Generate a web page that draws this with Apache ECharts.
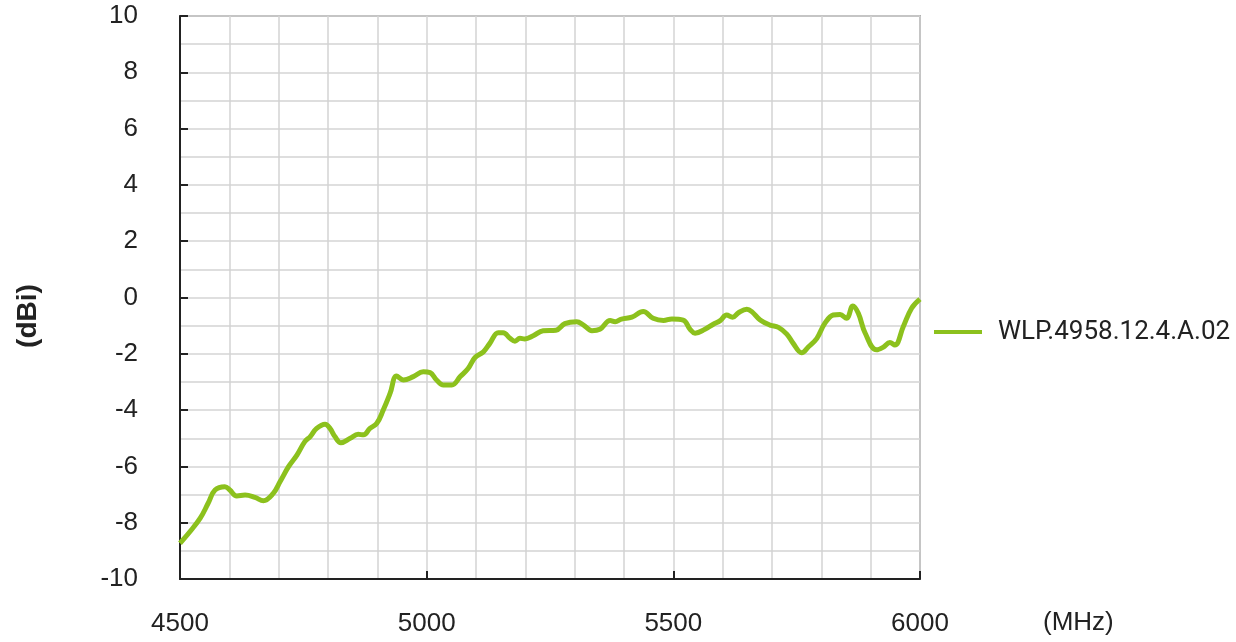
<!DOCTYPE html>
<html>
<head>
<meta charset="utf-8">
<script src="https://cdn.jsdelivr.net/npm/echarts@6/dist/echarts.min.js"></script>
<style>html,body{margin:0;padding:0;background:#fff;}#c{width:1236px;height:642px;}</style>
</head>
<body>
<div id="c"></div>
<script>
const seriesName = 'WLP.4958.12.4.A.02';
const freqs = [4500,4520,4541,4557,4571,4591,4601,4615,4632,4652,4669,4689,4703,4720,4737,4753,4764,4777,4794,4804,4814,4826,4845,4861,4872,4885,4899,4912,4926,4939,4953,4973,4993,5007,5020,5034,5051,5068,5084,5098,5115,5128,5145,5155,5169,5179,5189,5199,5216,5236,5262,5280,5304,5318,5335,5351,5372,5382,5395,5416,5439,5459,5480,5497,5520,5534,5544,5564,5581,5595,5608,5620,5632,5649,5659,5676,5696,5713,5730,5743,5760,5774,5791,5807,5824,5838,5851,5864,5875,5889,5912,5925,5939,5949,5966,5983,6000];
const gain = [-8.73,-8.32,-7.84,-7.31,-6.84,-6.72,-6.84,-7.05,-7.02,-7.10,-7.22,-6.96,-6.54,-6.01,-5.60,-5.12,-4.94,-4.65,-4.50,-4.65,-4.94,-5.16,-5.00,-4.86,-4.88,-4.65,-4.47,-4.00,-3.40,-2.79,-2.93,-2.81,-2.64,-2.67,-2.93,-3.11,-3.11,-2.81,-2.52,-2.13,-1.93,-1.63,-1.25,-1.25,-1.45,-1.55,-1.45,-1.47,-1.36,-1.18,-1.16,-0.93,-0.86,-0.98,-1.18,-1.13,-0.82,-0.86,-0.77,-0.70,-0.50,-0.74,-0.82,-0.76,-0.80,-1.13,-1.27,-1.13,-0.95,-0.82,-0.62,-0.70,-0.54,-0.42,-0.50,-0.80,-0.98,-1.06,-1.30,-1.63,-1.96,-1.75,-1.45,-0.92,-0.62,-0.60,-0.74,-0.30,-0.56,-1.27,-1.86,-1.77,-1.60,-1.69,-1.04,-0.38,-0.06];
const xLabels = [4500, 5000, 5500, 6000];
const yLabels = [-10, -8, -6, -4, -2, 0, 2, 4, 6, 8, 10];

const chart = echarts.init(document.getElementById('c'));
const data = freqs.map((f, i) => [f, gain[i]]);
chart.setOption({
  animation: false,
  grid: { left: 180, right: 316, top: 16, bottom: 63, show: true, borderColor: '#777', borderWidth: 1.5, backgroundColor: 'transparent' },
  legend: {
    left: 929, top: 314, orient: 'vertical',
    itemWidth: 48, itemHeight: 26, itemGap: 10,
    icon: 'path://M0,11 L48,11 L48,15 L0,15 Z',
    textStyle: { fontFamily: 'Roboto', fontSize: 26, color: '#222', padding: [0, 0, 0, 11] },
    data: [seriesName]
  },
  xAxis: {
    type: 'value', min: 4500, max: 6000, interval: 500,
    axisLine: { show: true, onZero: false, lineStyle: { color: '#222', width: 2 } },
    axisTick: { show: true, inside: true, length: 8, lineStyle: { color: '#222', width: 2 } },
    axisLabel: { margin: 32, fontFamily: 'Liberation Sans', fontSize: 26, color: '#222',
      formatter: v => xLabels.includes(v) ? String(v) : '' },
    splitLine: { show: true, lineStyle: { color: '#d4d4d4', width: 1.5 } },
    minorTick: { show: true, splitNumber: 5, length: 0 },
    minorSplitLine: { show: true, lineStyle: { color: '#d4d4d4', width: 1.5 } }
  },
  yAxis: {
    type: 'value', min: -10, max: 10, interval: 2,
    axisLine: { show: true, onZero: false, lineStyle: { color: '#222', width: 2 } },
    axisTick: { show: true, inside: true, length: 8, lineStyle: { color: '#222', width: 2 } },
    axisLabel: { margin: 42, fontFamily: 'Liberation Sans', fontSize: 26, color: '#222',
      formatter: v => yLabels.includes(v) ? String(v) : '' },
    splitLine: { show: true, lineStyle: { color: '#d4d4d4', width: 1.5 } },
    minorTick: { show: true, splitNumber: 2, length: 0 },
    minorSplitLine: { show: true, lineStyle: { color: '#d4d4d4', width: 1.5 } }
  },
  graphic: [
    { type: 'text', left: 1043, top: 610, style: { text: '(MHz)', fontFamily: 'Liberation Sans', fontSize: 26, fill: '#222' } },
    { type: 'text', x: 28, y: 316, rotation: Math.PI / 2, style: { text: '(dBi)', fontFamily: 'Liberation Sans', fontWeight: 'bold', fontSize: 28, fill: '#222', align: 'center', verticalAlign: 'middle' } }
  ],
  series: [{
    name: seriesName, type: 'line', data: data, smooth: 0.4, showSymbol: false, symbol: 'none',
    lineStyle: { color: '#8cc11d', width: 5 }, itemStyle: { color: '#8cc11d' }, clip: false
  }]
});
</script>
</body>
</html>
